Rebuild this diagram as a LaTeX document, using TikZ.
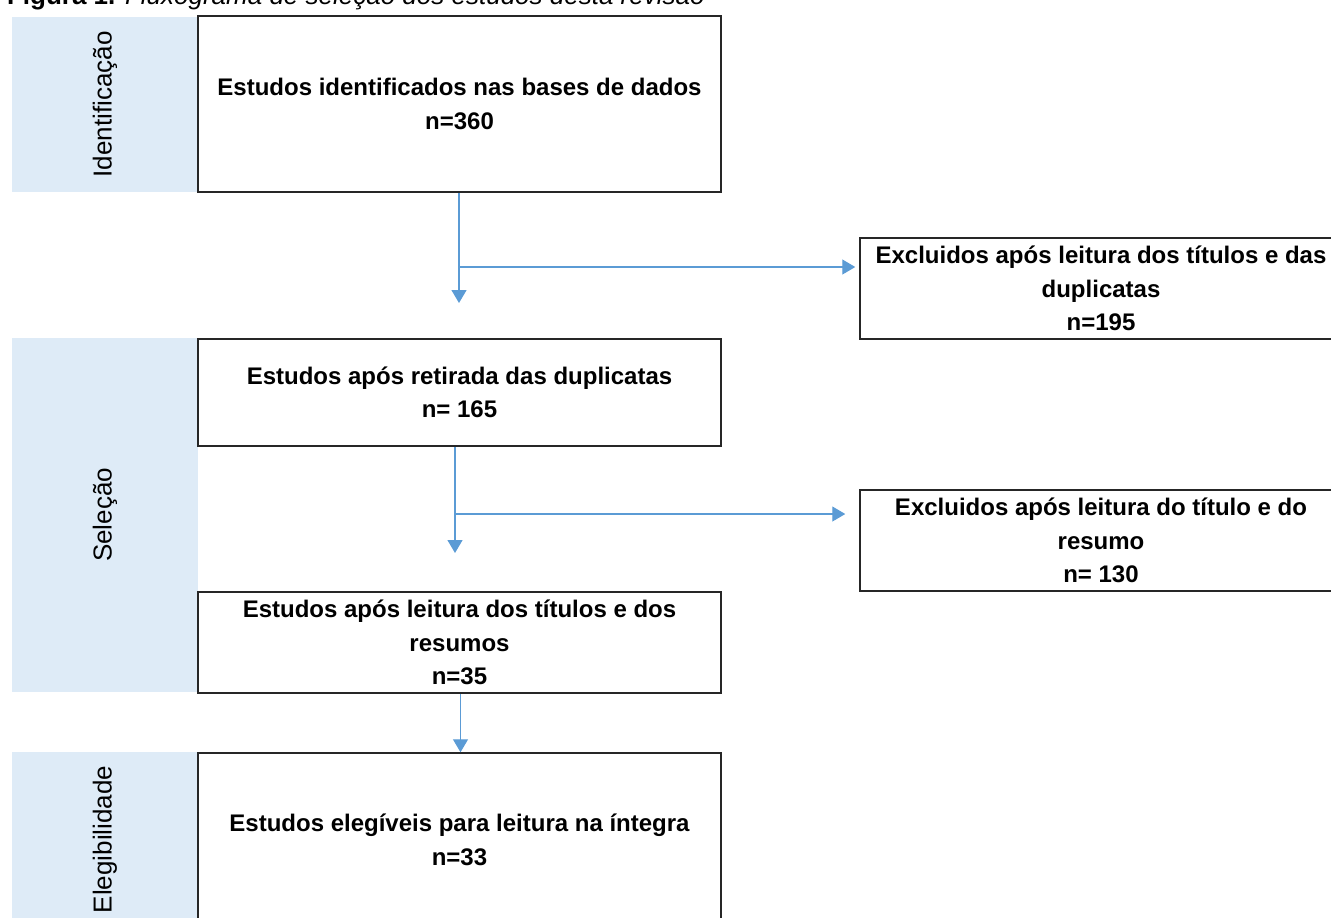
\documentclass[tikz,border=0pt]{standalone}
\usepackage{fontspec}
\setmainfont{Liberation Sans}
\usetikzlibrary{arrows.meta}

\definecolor{flowblue}{RGB}{91,155,213}
\definecolor{bandblue}{RGB}{222,235,247}

\begin{document}
\begin{tikzpicture} [x=0.5pt, y=-0.5pt,
  box/.style = {draw=black!85, line width=0.75pt, minimum width=261.5pt, align=center,
                font=\fontsize{12}{16.75}\selectfont\bfseries, inner sep=0pt},
  band/.style = {fill=bandblue, rotate=90, minimum height=93pt, inner sep=0pt,
                 font=\fontsize{13}{15}\selectfont},
  flow/.style = {draw=flowblue, line width=0.6pt, -{Triangle[width=7.5pt, length=6.5pt]}}]
\useasboundingbox (0,0) rectangle (1331,917);

\node[anchor=base west, font=\fontsize{13}{15}\selectfont] (cap) at (0,4)
  {\textbf{Figura 1.} \textit{Fluxograma de seleção dos estudos desta revisão}};

\node[band, minimum width=87.5pt] (ident) at (105,104.5) {Identificação};
\node[band, minimum width=177pt] (sel) at (105,515) {Seleção};
\node[band, minimum width=87.5pt] (eleg) at (105,839.5) {Elegibilidade};

\node[box, minimum height=88pt] (b1) at (459.5,104) {Estudos identificados nas bases de dados\\n=360};
\node[box, minimum height=53.5pt] (b2) at (459.5,392.5) {Estudos após retirada das duplicatas\\n= 165};
\node[box, minimum height=50.5pt] (b3) at (459.5,642.5) {Estudos após leitura dos títulos e dos\\resumos\\n=35};
\node[box, minimum height=87pt] (b4) at (459.5,840) {Estudos elegíveis para leitura na íntegra\\n=33};
\node[box, minimum width=241pt, minimum height=50.5pt] (e1) at (1101,288.5) {Excluidos após leitura dos títulos e das\\duplicatas\\n=195};
\node[box, minimum width=241pt, minimum height=50.5pt] (e2) at (1101,540.5) {Excluidos após leitura do título e do\\resumo\\n= 130};

\coordinate (t1) at (459,303);
\coordinate (k1) at (459,267);
\coordinate (t2) at (455,553);
\coordinate (k2) at (455,514);

\draw[flow] (b1.south -| t1) -- (t1);
\draw[flow, shorten >=2pt] (k1) -- (k1 -| e1.west);
\draw[flow] (b2.south -| t2) -- (t2);
\draw[flow, shorten >=7pt] (k2) -- (k2 -| e2.west);
\draw[flow] ([xshift=0.5pt]b3.south) -- ([xshift=0.5pt]b4.north);
\end{tikzpicture}
\end{document}
